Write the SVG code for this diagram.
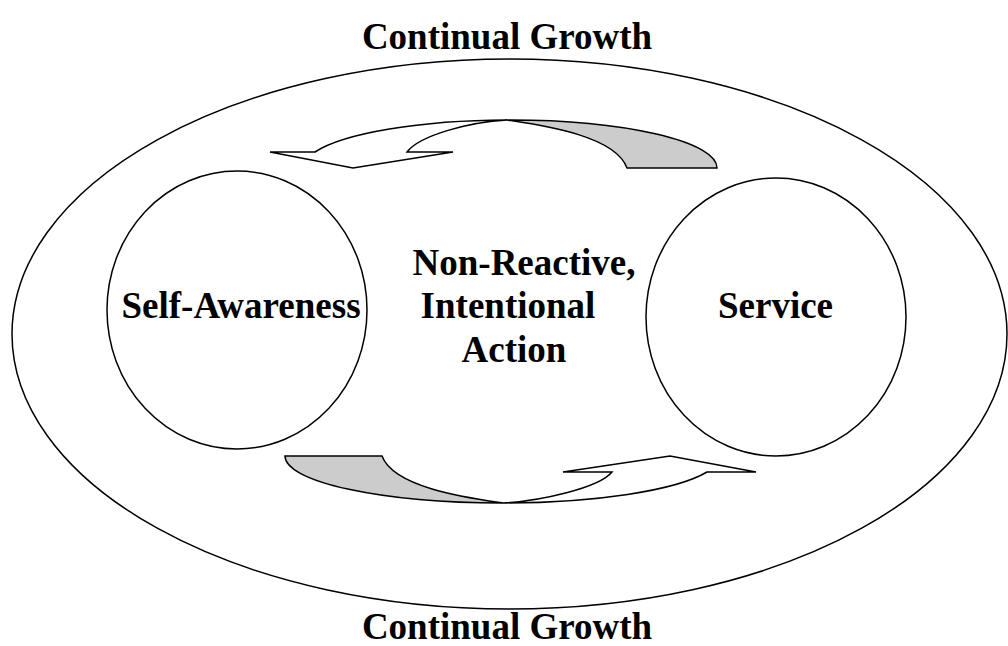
<svg xmlns="http://www.w3.org/2000/svg" width="1008" height="646" viewBox="0 0 1008 646">
<style>
.ln{fill:none;stroke:#000;stroke-width:1.5}
.wf{fill:#fff;stroke:#000;stroke-width:1.5;stroke-linejoin:miter}
.gf{fill:#cccccc;stroke:#000;stroke-width:1.5}
.t{font-family:"Liberation Serif","Times New Roman",serif;font-weight:bold;font-size:37px;text-anchor:middle;fill:#000}
</style>
<rect width="1008" height="646" fill="#fff"/>
<g id="growth">
<ellipse class="ln" cx="509.5" cy="334" rx="497.5" ry="275"/>
<text class="t" x="507" y="49">Continual Growth</text>
<text class="t" x="507" y="639">Continual Growth</text>
</g>
<g id="self-awareness">
<ellipse class="ln" cx="237" cy="310" rx="130" ry="139"/>
<text class="t" x="241" y="318">Self-Awareness</text>
</g>
<g id="service">
<ellipse class="ln" cx="776" cy="317" rx="130" ry="139"/>
<text class="t" x="775.5" y="318">Service</text>
</g>
<g id="action">
<text class="t" x="524" y="275">Non-Reactive,</text>
<text class="t" x="508" y="318">Intentional</text>
<text class="t" x="514" y="362">Action</text>
</g>
<g id="connectors">
<path class="gf" d="M507,120 A207 48 0 0 1 717,168 L627,168 C615,135 540,125 507,120 Z"/>
<path class="wf" d="M270,152 L315,152 A207 48 0 0 1 507,120 C470,122 420,135 407,152 L453,152 L353,168 Z"/>
<path class="gf" d="M285,456 L382,456 C394,488 469,498 503,503 A217.5 47 0 0 1 285,456 Z"/>
<path class="wf" d="M503,503 A217.5 47 0 0 0 707,472 L756,472 L670,456 L563,472 L612,472 C599,488 540,501 503,503 Z"/>
</g>
</svg>
